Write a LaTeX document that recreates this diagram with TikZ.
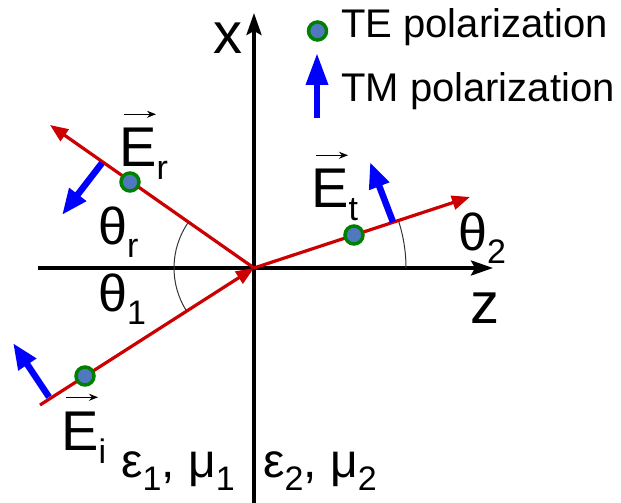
\documentclass[tikz,border=0pt]{standalone}
\usepackage{fontspec}
\setmainfont{Liberation Sans}
\usepackage{xcolor}
\usepackage{tikz}
\usetikzlibrary{arrows.meta}
\definecolor{RayRed}{RGB}{204,0,0}
\definecolor{PolBlue}{RGB}{0,0,255}
\definecolor{DotGreen}{RGB}{0,128,0}
\definecolor{DotFill}{RGB}{80,120,190}
\newcommand{\lowsub}[1]{\raisebox{-13pt}{\fontsize{34}{34}\selectfont #1}}
\tikzset{
  axisline/.style={line width=3.5pt, -{Stealth[length=22pt,width=15pt,inset=4pt]}},
  ray/.style={draw=RayRed, line width=3.2pt},
  rayarrow/.style={ray, -{Triangle[length=18pt,width=14pt]}},
  polarrow/.style={draw=PolBlue, line width=6.5pt, -{Triangle[length=26pt,width=20pt]}},
  tedot/.style={circle, draw=DotGreen, fill=DotFill, line width=3.5pt, minimum size=18pt, inner sep=0pt},
  anglearc/.style={draw=black!80, line width=1pt},
  vecarr/.style={line width=1.5pt, -{Stealth[length=9pt,width=7pt]}},
}
\tikzset{
  axlabel/.style={font=\fontsize{58}{58}\selectfont, inner sep=0pt},
  fieldlabel/.style={font=\fontsize{56}{56}\selectfont, inner sep=0pt, anchor=base west},
  anglabel/.style={font=\fontsize{52}{52}\selectfont, inner sep=0pt, anchor=base west},
  medlabel/.style={font=\fontsize{48}{48}\selectfont, inner sep=0pt, anchor=base west},
  legendtext/.style={font=\fontsize{40}{40}\selectfont, inner sep=0pt, anchor=base west},
}

\begin{document}
\begin{tikzpicture}[x=1pt, y=1pt]
  \useasboundingbox (-254,-235) rectangle (367,268);
  \coordinate (O) at (0,0);
  % axes
  \coordinate (zstart) at (-216,0);
  \coordinate (zend) at (239,0);
  \coordinate (xstart) at (0,-235);
  \coordinate (xend) at (0,255);
  \draw[axisline] (zstart) -- (zend);
  \draw[axisline] (xstart) -- (xend);
  \node[axlabel] (xlab) at (-26,230) {x};
  \node[axlabel] (zlab) at (231,-40) {z};
  % angles
  \draw[anglearc] (O) ++(145:80pt) arc[start angle=145, end angle=212.6, radius=80pt];
  \draw[anglearc] (O) ++(0:152pt) arc[start angle=0, end angle=18.2, radius=152pt];
  % rays
  \coordinate (Istart) at (-214,-137);
  \coordinate (Rtip) at (-204,143);
  \coordinate (Ttip) at (216,71);
  \draw[rayarrow] (Istart) -- (O);
  \draw[rayarrow] (O) -- (Rtip);
  \draw[rayarrow] (O) -- (Ttip);
  % TE dots
  \node[tedot] (dotI) at (-169,-108) {};
  \node[tedot] (dotR) at (-124,86) {};
  \node[tedot] (dotT) at (100,33) {};
  % TM arrows
  \coordinate (pI0) at (-205,-129);
  \coordinate (pI1) at (-241,-75);
  \coordinate (pR0) at (-152,105);
  \coordinate (pR1) at (-192,53);
  \coordinate (pT0) at (139,46);
  \coordinate (pT1) at (116,106);
  \draw[polarrow] (pI0) -- (pI1);
  \draw[polarrow] (pR0) -- (pR1);
  \draw[polarrow] (pT0) -- (pT1);
  % labels
  \node[fieldlabel] (Er) at (-135,101) {E\lowsub{r}};
  \node[fieldlabel] (Et) at (57,60) {E\lowsub{t}};
  \node[fieldlabel] (Ei) at (-193,-182) {E\lowsub{i}};
  \draw[vecarr] ([shift={(5pt,14pt)}]Er.north west) -- ++(32pt,0);
  \draw[vecarr] ([shift={(5pt,14pt)}]Et.north west) -- ++(32pt,0);
  \draw[vecarr] ([shift={(5pt,14pt)}]Ei.north west) -- ++(32pt,0);
  \node[anglabel] (thr) at (-156,23) {θ\lowsub{r}};
  \node[anglabel] (th1) at (-156,-44) {θ\lowsub{1}};
  \node[anglabel] (th2) at (204,17) {θ\lowsub{2}};
  \node[medlabel] (med1) at (-133,-209) {ε\lowsub{1}, μ\lowsub{1}};
  \node[medlabel] (med2) at (9,-209) {ε\lowsub{2}, μ\lowsub{2}};
  % legend
  \node[tedot] (legdot) at (63.5,237) {};
  \node[legendtext] (legTE) at (87,230) {TE polarization};
  \coordinate (legA0) at (63,150);
  \coordinate (legA1) at (63,215);
  \draw[polarrow, -{Triangle[length=32pt,width=21pt]}] (legA0) -- (legA1);
  \node[legendtext] (legTM) at (87,166) {TM polarization};
\end{tikzpicture}
\end{document}
